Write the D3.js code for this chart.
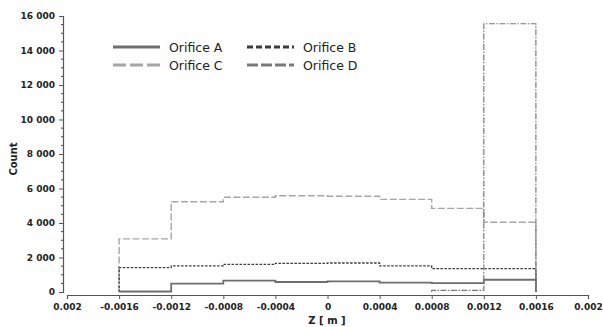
<!DOCTYPE html>
<html>
<head>
<meta charset="utf-8">
<script src="https://cdn.jsdelivr.net/npm/d3@7"></script>
<style>
    body { margin: 0; background: #fff; }
    text { font-family: 'DejaVu Sans', sans-serif; }
</style>
</head>
<body>
<svg id="chart" width="603" height="327"></svg>
<script>
// bin edges along Z [m]
const binEdges = [-0.0016, -0.0012, -0.0008, -0.0004, 0, 0.0004, 0.0008, 0.0012, 0.0016];

const orificeA = [30, 480, 655, 580, 620, 540, 520, 710];
const orificeB = [1410, 1510, 1600, 1660, 1680, 1510, 1350, 1350];
const orificeC = [3080, 5230, 5490, 5580, 5550, 5370, 4850, 4040];
// empty bins for D are not drawn
const orificeD = [null, null, null, null, null, null, 100, 15550];

const xTicks = [-0.002, -0.0016, -0.0012, -0.0008, -0.0004, 0, 0.0004, 0.0008, 0.0012, 0.0016, 0.002];
const xTickLabels = ['0.002', '-0.0016', '-0.0012', '-0.0008', '-0.0004', '0', '0.0004', '0.0008', '0.0012', '0.0016', '0.002'];
const yTicks = [0, 2000, 4000, 6000, 8000, 10000, 12000, 14000, 16000];

const series = [
    { name: 'Orifice A', values: orificeA, color: '#6e6e6e', width: 1.8, dash: null, legendDash: null },
    { name: 'Orifice B', values: orificeB, color: '#3a3a3a', width: 1.3, dash: '2.5,1.5', legendDash: '6,3' },
    { name: 'Orifice C', values: orificeC, color: '#a6a6a6', width: 1.4, dash: '7,2.5', legendDash: '13,4' },
    { name: 'Orifice D', values: orificeD, color: '#7a7a7a', width: 1.2, dash: '6,1.5,1.5,1.5', legendDash: '11,3' }
];

const svg = d3.select('#chart');

const x = d3.scaleLinear().domain([-0.002, 0.002]).range([67, 588]);
const y = d3.scaleLinear().domain([0, 16000]).range([292, 16]);

function stepPath(values) {
    let pts = [];
    let last = null;
    values.forEach(function (v, i) {
        if (v === null) return;
        if (!pts.length) pts.push([binEdges[i], 0]);
        pts.push([binEdges[i], v]);
        pts.push([binEdges[i + 1], v]);
        last = i + 1;
    });
    pts.push([binEdges[last], 0]);
    return d3.line().x(function (d) { return x(d[0]); }).y(function (d) { return y(d[1]); })(pts);
}

// series lines, C behind, then B, A, D
[series[2], series[1], series[0], series[3]].forEach(function (s) {
    svg.append('path')
        .attr('d', stepPath(s.values))
        .attr('fill', 'none')
        .attr('stroke', s.color)
        .attr('stroke-width', s.width)
        .attr('stroke-dasharray', s.dash);
});

// y axis
const yAxis = svg.append('g')
    .attr('transform', 'translate(63,0)')
    .call(d3.axisLeft(y).tickValues(yTicks).tickSize(4).tickPadding(4)
        .tickFormat(function (d) { return d3.format(',')(d).replace(',', ' '); }));
yAxis.append('g').selectAll('line')
    .data(d3.range(0, 16001, 500).filter(function (d) { return d % 2000 !== 0; }))
    .enter().append('line')
    .attr('x1', -2).attr('x2', 0)
    .attr('y1', function (d) { return y(d); }).attr('y2', function (d) { return y(d); })
    .attr('stroke', '#444');

// x axis
const xAxis = svg.append('g')
    .attr('transform', 'translate(0,295)')
    .call(d3.axisBottom(x).tickValues(xTicks).tickSize(4).tickPadding(5)
        .tickFormat(function (d, i) { return xTickLabels[i]; }));

[yAxis, xAxis].forEach(function (a) {
    a.select('.domain').attr('stroke', '#555').attr('stroke-width', 1.2);
    a.selectAll('.tick line').attr('stroke', '#555');
    a.selectAll('.tick text')
        .attr('fill', '#222')
        .style('font-family', "'DejaVu Sans', sans-serif")
        .style('font-size', '9px')
        .style('font-weight', 'bold');
});

// axis titles
svg.append('text')
    .attr('x', 327).attr('y', 324)
    .attr('text-anchor', 'middle')
    .style('font-size', '10px').style('font-weight', 'bold').attr('fill', '#222')
    .text('Z [ m ]');
svg.append('text')
    .attr('transform', 'translate(17,159) rotate(-90)')
    .attr('text-anchor', 'middle')
    .style('font-size', '10px').style('font-weight', 'bold').attr('fill', '#222')
    .text('Count');

// legend
const legendPos = [[113, 47], [247, 47], [113, 65], [247, 65]];
series.forEach(function (s, i) {
    const p = legendPos[i];
    svg.append('line')
        .attr('x1', p[0]).attr('x2', p[0] + 47)
        .attr('y1', p[1]).attr('y2', p[1])
        .attr('stroke', s.color)
        .attr('stroke-width', 3)
        .attr('stroke-dasharray', s.legendDash);
    svg.append('text')
        .attr('x', p[0] + 56).attr('y', p[1] + 4.5)
        .style('font-size', '12.5px').attr('fill', '#222')
        .text(s.name);
});
</script>
</body>
</html>
